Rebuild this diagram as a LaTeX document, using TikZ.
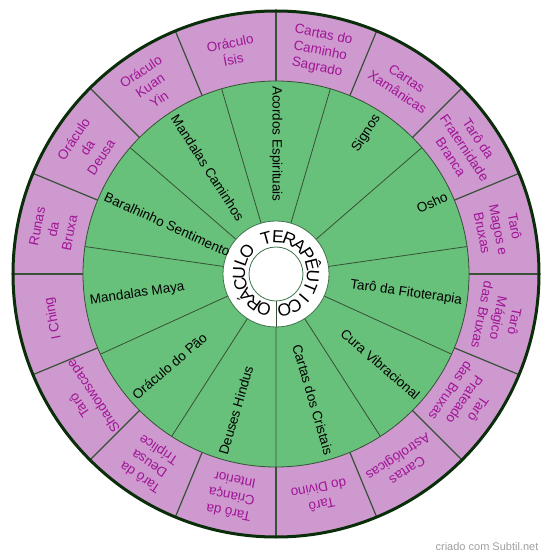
\documentclass[tikz,border=0pt]{standalone}
\usepackage{fontspec}
\setmainfont{Liberation Sans}
\definecolor{rosa}{RGB}{206,153,206}
\definecolor{verde}{RGB}{104,193,122}
\definecolor{roxo}{RGB}{160,20,150}
\definecolor{borda}{RGB}{10,45,10}
\definecolor{linha}{RGB}{55,80,55}
\begin{document}
\begin{tikzpicture}[x=1pt,y=1pt,
	rotulo/.style={text=roxo,align=center,font=\fontsize{13.5}{16.5}\selectfont,inner sep=0pt},
	carta/.style={font=\fontsize{13.5}{15}\selectfont,inner sep=0pt},
	lado0/.style={anchor=east},
	lado1/.style={anchor=west},
	letra/.style={font=\fontsize{17.5}{17.5}\selectfont,inner sep=0pt,anchor=base}]
	\def\rA{263} % borda externa
	\def\rB{193} % anel verde
	\def\rC{53}  % anel branco
	\def\rD{27}  % miolo
	\useasboundingbox (-276,-285) rectangle (274,274);
	\fill[rosa] (0,0) circle(\rA);
	\fill[verde] (0,0) circle(\rB);
	\fill[white] (0,0) circle(\rC);
	\foreach \a in {0,22.5,...,337.5}
		\draw[linha,line width=1.2pt] (\a:\rB)--(\a:\rA);
	\foreach \k in {0,...,10}
		\draw[linha,line width=0.8pt] ({73.636-\k*32.727}:\rC)--({73.636-\k*32.727}:\rB);
	\draw[linha,line width=0.8pt] (270:\rD)--(270:\rC);
	\draw[linha,line width=0.8pt] (0,0) circle(\rB);
	\draw[verde!60!black,line width=0.8pt] (0,0) circle(\rC);
	\draw[verde!60!black,line width=0.8pt] (0,0) circle(\rD);
	\draw[borda,line width=3pt] (0,0) circle(\rA);
	% anel externo
	\foreach \txt [count=\i from 0] in {{Tarô\\Magos e\\Bruxas},{Tarô da\\Fraternidade\\Branca},{Cartas\\Xamânicas},{Cartas do\\Caminho\\Sagrado},
		{Oráculo\\Ísis},{Oráculo\\Kuan\\Yin},{Oráculo\\da\\Deusa},{Runas\\da\\Bruxa},
		{I Ching},{Tarô\\Shadowscape},{Tarô da\\Deusa\\Tríplice},{Tarô da\\Criança\\Interior},
		{Tarô\\do Divino},{Cartas\\Astrológicas},{Tarô\\Prateado\\das Bruxas},{Tarô\\Mágico\\das Bruxas}}
		\node[rotulo,rotate={\i*22.5+11.25-90}] (o\i) at ({\i*22.5+11.25}:227) {\txt};
	% anel verde
	\foreach \txt/\m [count=\i from 0] in {Acordos Espirituais/1,Signos/0,Osho/0,Tarô da Fitoterapia/0,
		Cura Vibracional/0,Cartas dos Cristais/0,Deuses Hindus/1,Oráculo do Pão/1,
		Mandalas Maya/1,Baralhinho Sentimento/1,Mandalas Caminhos/1}{
		\pgfmathsetmacro\ang{90-\i*360/11}
		\node[carta,lado\m,rotate={\ang+\m*180}] (g\i) at (\ang:188) {\txt};
	}
	% titulo circular
	\foreach \ch/\k in {O/0,R/1,Á/2,C/3,U/4,L/5,O/6,T/8,E/9,R/10,A/11,P/12,Ê/13,U/14,T/15,I/16,C/17,O/18}
		\node[letra,rotate={251-\k*18.22-90}] (t\k) at ({251-\k*18.22}:31) {\ch};
	\node[font=\fontsize{11}{11}\selectfont,text=gray!75] (marca) at (211,-273) {criado com Subtil.net};
\end{tikzpicture}
\end{document}
